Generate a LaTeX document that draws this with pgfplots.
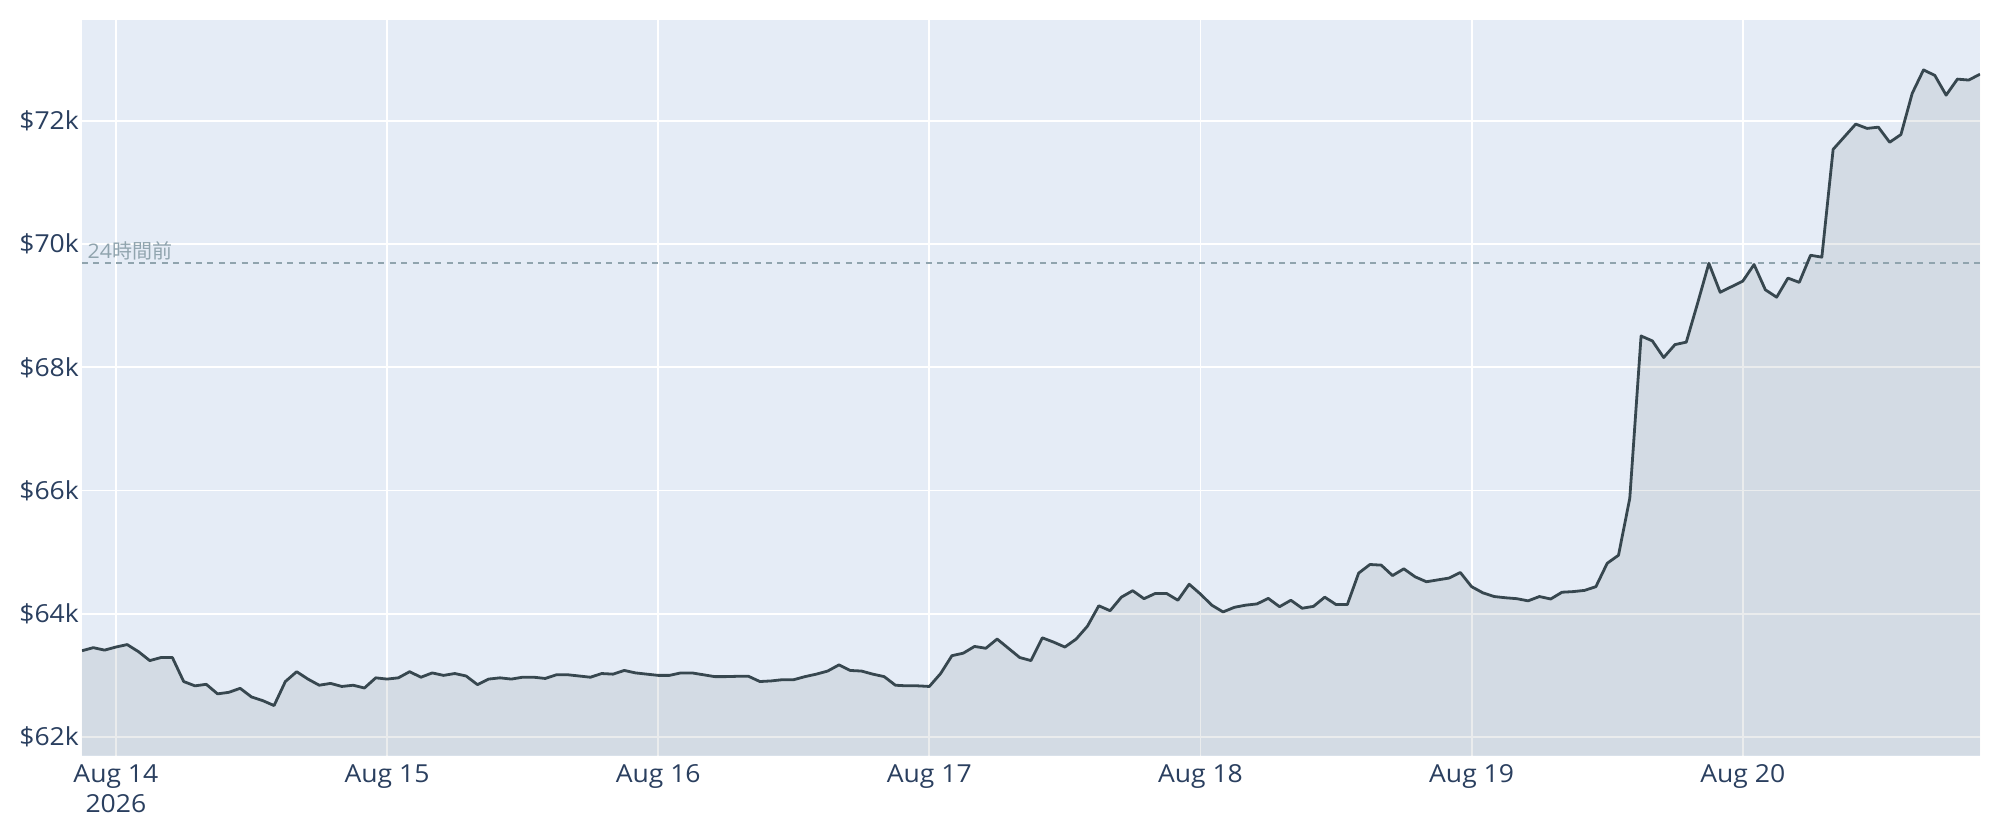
\documentclass[border=0pt]{standalone}
\usepackage{pgfplots}
\pgfplotsset{compat=1.18}
\usepackage{pgfplotstable}
\usepackage{fontspec}
\setmainfont{Open Sans}[FakeStretch=1.07]
\newfontfamily\cjk{Noto Sans CJK JP}
\definecolor{bg}{HTML}{E5ECF6}
\definecolor{tickc}{HTML}{2A3F5F}
\definecolor{linec}{HTML}{37474F}
\definecolor{refc}{HTML}{90A4AE}

% hours since Aug 13 21:00, price in thousands of USD
\pgfplotstableread{
h v
0 63.40
1 63.45
2 63.41
3 63.46
4 63.50
5 63.385
6 63.24
7 63.29
8 63.29
9 62.90
10 62.83
11 62.855
12 62.70
13 62.725
14 62.79
15 62.65
16 62.59
17 62.51
18 62.90
19 63.06
20 62.94
21 62.84
22 62.87
23 62.82
24 62.84
25 62.795
26 62.96
27 62.94
28 62.96
29 63.06
30 62.97
31 63.04
32 63.00
33 63.03
34 62.99
35 62.85
36 62.94
37 62.96
38 62.94
39 62.97
40 62.97
41 62.95
42 63.01
43 63.01
44 62.99
45 62.97
46 63.03
47 63.02
48 63.08
49 63.04
50 63.02
51 63.00
52 63.00
53 63.04
54 63.04
55 63.01
56 62.98
57 62.98
58 62.985
59 62.985
60 62.90
61 62.91
62 62.93
63 62.93
64 62.98
65 63.02
66 63.07
67 63.17
68 63.08
69 63.07
70 63.02
71 62.98
72 62.84
73 62.83
74 62.83
75 62.82
76 63.03
77 63.32
78 63.36
79 63.47
80 63.44
81 63.59
82 63.44
83 63.29
84 63.24
85 63.61
86 63.54
87 63.46
88 63.59
89 63.80
90 64.13
91 64.05
92 64.27
93 64.375
94 64.245
95 64.33
96 64.33
97 64.22
98 64.48
99 64.32
100 64.14
101 64.03
102 64.105
103 64.14
104 64.16
105 64.25
106 64.115
107 64.22
108 64.09
109 64.12
110 64.27
111 64.15
112 64.15
113 64.66
114 64.80
115 64.79
116 64.62
117 64.73
118 64.60
119 64.52
120 64.55
121 64.58
122 64.67
123 64.44
124 64.34
125 64.28
126 64.26
127 64.245
128 64.21
129 64.28
130 64.24
131 64.35
132 64.36
133 64.38
134 64.44
135 64.82
136 64.95
137 65.875
138 68.51
139 68.43
140 68.16
141 68.37
142 68.41
143 69.04
144 69.69
145 69.22
146 69.31
147 69.40
148 69.67
149 69.26
150 69.14
151 69.45
152 69.38
153 69.82
154 69.79
155 71.54
156 71.745
157 71.95
158 71.88
159 71.90
160 71.655
161 71.78
162 72.45
163 72.83
164 72.74
165 72.42
166 72.68
167 72.665
168 72.76
}\prices

\begin{document}
\begin{tikzpicture}
\path[use as bounding box] (0,0) rectangle (1000bp,420bp);
\begin{axis}[
  at={(41bp,42.15bp)}, anchor=south west,
  scale only axis, width=949bp, height=367.85bp,
  xmin=0, xmax=168, ymin=61.696, ymax=73.64,
  axis background/.style={fill=bg},
  axis line style={draw=none},
  tick style={draw=none},
  major tick length=0pt,
  grid=major, grid style={white, line width=0.9bp},
  xtick={3,27,51,75,99,123,147},
  xticklabels={{Aug 14\\2026},Aug 15,Aug 16,Aug 17,Aug 18,Aug 19,Aug 20},
  xticklabel style={align=center, inner sep=0pt, anchor=north, yshift=-4.2bp,
    font=\fontsize{12.4bp}{15bp}\selectfont, text=tickc},
  ytick={62,64,66,68,70,72},
  yticklabels={\$62k,\$64k,\$66k,\$68k,\$70k,\$72k},
  yticklabel style={inner sep=0pt, anchor=east, xshift=-1.4bp,
    font=\fontsize{12.4bp}{15bp}\selectfont, text=tickc},
]
\addplot[draw=none, fill=linec, fill opacity=0.1] table[x=h,y=v] {\prices} \closedcycle;
\addplot[refc, line width=1bp, dash pattern=on 3bp off 2.7bp] coordinates {(0,69.70) (168,69.70)};
\addplot[linec, line width=1.4bp, line join=round] table[x=h,y=v] {\prices};
\node[anchor=base west, inner sep=0pt, text=refc, font=\fontsize{10bp}{12bp}\selectfont]
  at (axis cs:0,69.70) [xshift=2.65bp, yshift=2.25bp] {24{\cjk 時間前}};
\end{axis}
\end{tikzpicture}
\end{document}
